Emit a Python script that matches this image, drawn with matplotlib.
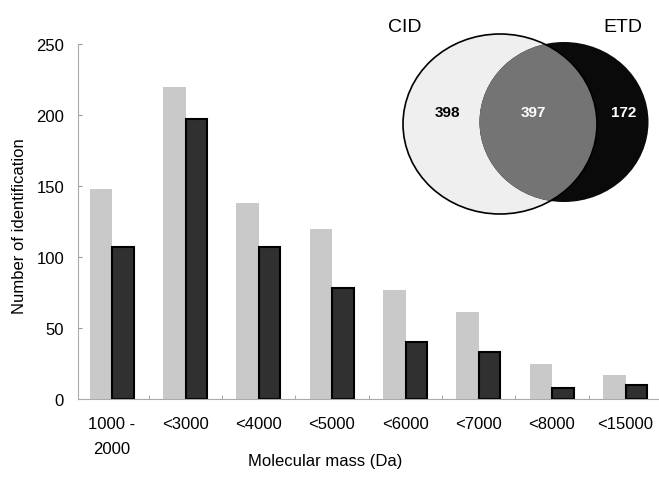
import matplotlib
matplotlib.use("Agg")
import matplotlib.pyplot as plt
from matplotlib.patches import Ellipse
import numpy as np

plt.rcParams['font.family'] = ['Liberation Sans', 'DejaVu Sans']

# bar data
categories = ["1000 -\n2000", "<3000", "<4000", "<5000", "<6000", "<7000", "<8000", "<15000"]
cid_counts = [148, 220, 138, 120, 77, 61, 25, 17]
etd_counts = [107, 197, 107, 78, 40, 33, 8, 10]

# venn counts
venn_labels = ["CID", "ETD"]
venn_counts = [398, 397, 172]  # CID only, both, ETD only

W, H = 659, 481
fig = plt.figure(figsize=(W / 100, H / 100), dpi=100)

# main bar axes, placed in pixel terms
left, right, bottom, top = 78, 659, 400, 45
ax = fig.add_axes([left / W, (H - bottom) / H, (right - left) / W, (bottom - top) / H])

x = np.arange(len(categories))
ax.bar(x - 0.15, cid_counts, width=0.31, color="#c9c9c9", edgecolor="none", zorder=2)
ax.bar(x + 0.15, etd_counts, width=0.29, color="#303030", edgecolor="black", linewidth=1.5, zorder=2)

ax.set_xlim(-0.464, 7.46)
ax.set_ylim(0, 250)
ax.set_yticks([0, 50, 100, 150, 200, 250])
ax.set_xticks(x)
ax.set_xticklabels(categories, fontsize=12, linespacing=1.9)
ax.set_xticks(x[:-1] + 0.5, minor=True)
ax.tick_params(axis="x", which="major", length=0, pad=12)
ax.tick_params(axis="x", which="minor", direction="in", length=3, color="#999999")
ax.tick_params(axis="y", direction="in", length=3, color="#999999", labelsize=12, pad=10)

for s in ["top", "right"]:
    ax.spines[s].set_visible(False)
for s in ["left", "bottom"]:
    ax.spines[s].set_color("#aaaaaa")
    ax.spines[s].set_linewidth(0.8)

ax.set_ylabel("Number of identification", fontsize=12)
ax.set_xlabel("Molecular mass (Da)", fontsize=12)
# label positions in pixel terms
ax.yaxis.set_label_coords((20 - left) / (right - left), 0.49)
ax.xaxis.set_label_coords((325 - left) / (right - left), -(462 - bottom) / (bottom - top))
ax.xaxis.label.set_va("center")
ax.yaxis.label.set_va("center")

# overlay axes in pixel coordinates for the venn diagram
ov = fig.add_axes([0, 0, 1, 1])
ov.set_xlim(0, W)
ov.set_ylim(H, 0)
ov.axis("off")

cid = Ellipse((500, 125), 194, 180, facecolor="#efefef", edgecolor="none", zorder=1)
etd = Ellipse((564, 123), 169, 160, facecolor="#0a0a0a", edgecolor="none", zorder=2)
both = Ellipse((500, 125), 194, 180, facecolor="#747474", edgecolor="none", zorder=3)
outline = Ellipse((500, 125), 194, 180, facecolor="none", edgecolor="black", linewidth=1.2, zorder=4)
for p in [cid, etd, both, outline]:
    ov.add_patch(p)
both.set_clip_path(etd)

ov.text(405, 28, venn_labels[0], fontsize=14, ha="center", va="center")
ov.text(623, 28, venn_labels[1], fontsize=14, ha="center", va="center")
ov.text(447, 113, str(venn_counts[0]), fontsize=11, fontweight="bold", color="black", ha="center", va="center")
ov.text(533, 113, str(venn_counts[1]), fontsize=11, fontweight="bold", color="white", ha="center", va="center")
ov.text(624, 113, str(venn_counts[2]), fontsize=11, fontweight="bold", color="white", ha="center", va="center")

fig.savefig("out.png", dpi=100)
